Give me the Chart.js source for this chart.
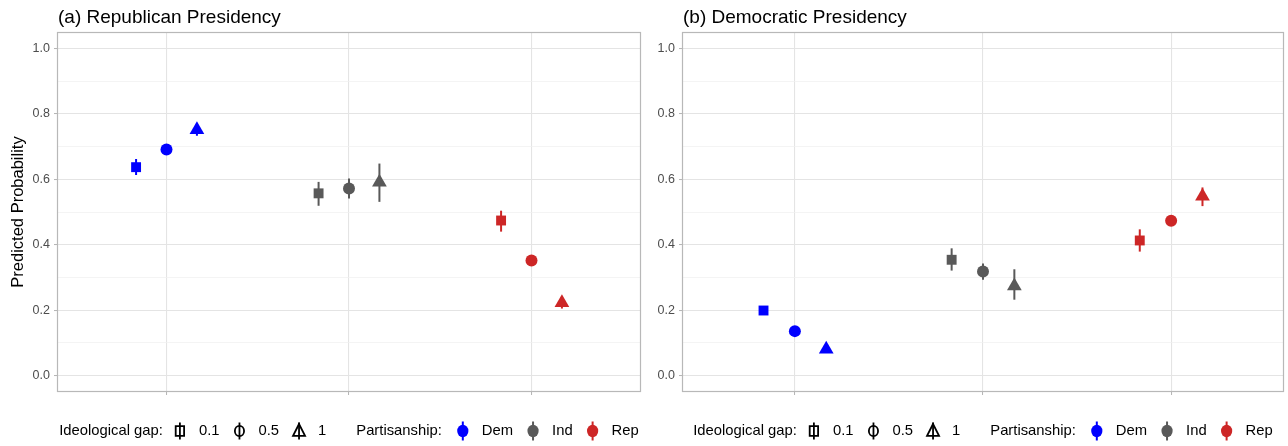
<!DOCTYPE html>
<html>
<head>
<meta charset="utf-8">
<script src="https://cdn.jsdelivr.net/npm/chart.js@4.4.1/dist/chart.umd.min.js"></script>
<style>
  html, body { margin: 0; padding: 0; background: #ffffff; }
  #wrap { position: relative; width: 1288px; height: 446px; overflow: hidden; }
  .panel { position: absolute; top: 0; width: 644px; height: 446px; }
</style>
</head>
<body>
<div id="wrap">
  <div class="panel" style="left:0"><canvas id="repChart" width="644" height="446"></canvas></div>
  <div class="panel" style="left:644px"><canvas id="demChart" width="644" height="446"></canvas></div>
</div>
<script>
// Categories and legend labels
const partyLabels = ['Dem', 'Ind', 'Rep'];
const gapLabels = ['0.1', '0.5', '1'];
const partyColors = ['#0000FF', '#595959', '#CD2626'];
const yTickValues = [0, 0.1, 0.2, 0.3, 0.4, 0.5, 0.6, 0.7, 0.8, 0.9, 1.0];
const yTickLabels = ['0.0', '', '0.2', '', '0.4', '', '0.6', '', '0.8', '', '1.0'];

// Predicted probabilities, ordered Dem(0.1, 0.5, 1), Ind(0.1, 0.5, 1), Rep(0.1, 0.5, 1)
// (a) Republican presidency
const repEstimate = [0.637, 0.691, 0.751, 0.557, 0.572, 0.591, 0.474, 0.352, 0.223];
const repLower    = [0.613, 0.681, 0.733, 0.519, 0.541, 0.531, 0.440, 0.342, 0.205];
const repUpper    = [0.662, 0.701, 0.765, 0.592, 0.602, 0.648, 0.504, 0.362, 0.240];
// (b) Democratic presidency
const demEstimate = [0.199, 0.136, 0.081, 0.354, 0.318, 0.274, 0.413, 0.473, 0.548];
const demLower    = [0.190, 0.126, 0.071, 0.321, 0.293, 0.232, 0.379, 0.463, 0.518];
const demUpper    = [0.210, 0.146, 0.091, 0.389, 0.343, 0.325, 0.447, 0.483, 0.575];

const FONT = '"Liberation Sans", Arial, Helvetica, sans-serif';
const gapStyles = ['rect', 'circle', 'triangle'];
const gapRadii = [7, 6, 8.5];
const dodge = [-1 / 6, 0, 1 / 6];

function buildDatasets(est, lo, hi) {
  return partyLabels.map((party, p) => ({
    label: party,
    data: gapLabels.map((g, k) => ({
      x: p + 1 + dodge[k],
      y: est[p * 3 + k],
      lo: lo[p * 3 + k],
      hi: hi[p * 3 + k]
    })),
    backgroundColor: partyColors[p],
    borderColor: partyColors[p],
    borderWidth: 0,
    pointStyle: ctx => gapStyles[ctx.dataIndex],
    pointRadius: ctx => gapRadii[ctx.dataIndex],
    pointHoverRadius: ctx => gapRadii[ctx.dataIndex],
    showLine: false
  }));
}

// Vertical interval lines behind each point
const errorBars = {
  id: 'errorBars',
  beforeDatasetsDraw(chart) {
    const ctx = chart.ctx;
    const yScale = chart.scales.y;
    ctx.save();
    chart.data.datasets.forEach((ds, i) => {
      const meta = chart.getDatasetMeta(i);
      meta.data.forEach((el, j) => {
        const d = ds.data[j];
        ctx.strokeStyle = ds.borderColor;
        ctx.lineWidth = 2;
        ctx.beginPath();
        ctx.moveTo(el.x, yScale.getPixelForValue(d.lo));
        ctx.lineTo(el.x, yScale.getPixelForValue(d.hi));
        ctx.stroke();
      });
    });
    ctx.restore();
  }
};

function drawGapKey(ctx, x, y, k) {
  ctx.save();
  ctx.strokeStyle = '#000';
  ctx.lineWidth = 1.8;
  ctx.beginPath();
  ctx.moveTo(x, y - 8.5);
  ctx.lineTo(x, y + 8.5);
  ctx.stroke();
  ctx.beginPath();
  if (k === 0) {
    ctx.rect(x - 4.2, y - 4.8, 8.4, 9.6);
  } else if (k === 1) {
    ctx.ellipse(x, y, 4.6, 5.2, 0, 0, Math.PI * 2);
  } else {
    ctx.moveTo(x, y - 7);
    ctx.lineTo(x - 6, y + 4.8);
    ctx.lineTo(x + 6, y + 4.8);
    ctx.closePath();
  }
  ctx.stroke();
  ctx.restore();
}

function drawPartyKey(ctx, x, y, p) {
  ctx.save();
  ctx.strokeStyle = partyColors[p];
  ctx.fillStyle = partyColors[p];
  ctx.lineWidth = 2;
  ctx.beginPath();
  ctx.moveTo(x, y - 9.5);
  ctx.lineTo(x, y + 9.5);
  ctx.stroke();
  ctx.beginPath();
  ctx.ellipse(x, y, 5.6, 6.2, 0, 0, Math.PI * 2);
  ctx.fill();
  ctx.restore();
}

// Panel frame, title, axis title and bottom legend
const decorations = {
  id: 'decorations',
  afterDraw(chart, args, opts) {
    const ctx = chart.ctx;
    const a = chart.chartArea;
    ctx.save();
    // panel border
    ctx.strokeStyle = '#B8B8B8';
    ctx.lineWidth = 1.2;
    ctx.strokeRect(a.left + 0.5, a.top + 0.5, a.right - a.left - 1, a.bottom - a.top - 1);

    // title
    ctx.fillStyle = '#000';
    ctx.font = '19px ' + FONT;
    ctx.textAlign = 'left';
    ctx.textBaseline = 'alphabetic';
    ctx.fillText(opts.title, a.left + 1, 23);

    // y-axis title
    if (opts.yTitle) {
      ctx.save();
      ctx.translate(18.5, (a.top + a.bottom) / 2);
      ctx.rotate(-Math.PI / 2);
      ctx.font = '16.5px ' + FONT;
      ctx.textAlign = 'center';
      ctx.textBaseline = 'middle';
      ctx.fillText(opts.yTitle, 0, 0);
      ctx.restore();
    }

    // legend
    ctx.font = '14.8px ' + FONT;
    ctx.textBaseline = 'middle';
    ctx.textAlign = 'left';
    const items = [];
    items.push({ t: 'text', s: 'Ideological gap:', after: 17 });
    gapLabels.forEach((g, k) => {
      items.push({ t: 'gap', k: k, after: 19 });
      items.push({ t: 'text', s: g, after: k < gapLabels.length - 1 ? 20 : 30 });
    });
    items.push({ t: 'text', s: 'Partisanship:', after: 21 });
    partyLabels.forEach((p, k) => {
      items.push({ t: 'party', k: k, after: 19 });
      items.push({ t: 'text', s: p, after: k < partyLabels.length - 1 ? 20 : 0 });
    });
    let total = 0;
    items.forEach(it => {
      it.w = it.t === 'text' ? ctx.measureText(it.s).width : 0;
      total += it.w + it.after;
    });
    let x = (a.left + a.right) / 2 - total / 2;
    const y = opts.legendY;
    items.forEach(it => {
      if (it.t === 'text') {
        ctx.fillStyle = '#000';
        ctx.fillText(it.s, x, y);
      } else if (it.t === 'gap') {
        drawGapKey(ctx, x, y, it.k);
      } else {
        drawPartyKey(ctx, x, y, it.k);
      }
      x += it.w + it.after;
    });
    ctx.restore();
  }
};

function makeChart(id, title, yTitle, est, lo, hi, axisWidth, padRight) {
  return new Chart(document.getElementById(id), {
    type: 'scatter',
    data: { datasets: buildDatasets(est, lo, hi) },
    plugins: [errorBars, decorations],
    options: {
      responsive: false,
      devicePixelRatio: 1,
      animation: false,
      events: [],
      layout: {
        autoPadding: false,
        padding: { top: 32, left: 0, right: padRight, bottom: 0 }
      },
      plugins: {
        legend: { display: false },
        tooltip: { enabled: false },
        decorations: { title: title, yTitle: yTitle, legendY: 431 }
      },
      scales: {
        x: {
          type: 'linear',
          min: 0.4,
          max: 3.6,
          afterBuildTicks: s => { s.ticks = [1, 2, 3].map(v => ({ value: v })); },
          afterFit: s => { s.height = 54; },
          ticks: { display: false },
          border: { display: false },
          grid: {
            color: '#E4E4E4',
            lineWidth: 1.1,
            drawTicks: true,
            tickLength: 3,
            tickColor: '#B3B3B3',
            tickWidth: 1
          }
        },
        y: {
          type: 'linear',
          min: -0.05,
          max: 1.05,
          afterBuildTicks: s => { s.ticks = yTickValues.map(v => ({ value: v })); },
          afterFit: s => { s.width = axisWidth; },
          ticks: {
            autoSkip: false,
            callback: (v, i) => yTickLabels[i],
            color: '#4D4D4D',
            font: { size: 12.5, family: FONT },
            padding: 4
          },
          border: { display: false },
          grid: {
            color: ctx => (ctx.index % 2 === 0 ? '#E4E4E4' : '#EFEFEF'),
            lineWidth: ctx => (ctx.index % 2 === 0 ? 1.1 : 0.7),
            drawTicks: true,
            tickLength: 3,
            tickColor: ctx => (ctx.index % 2 === 0 ? '#B3B3B3' : 'rgba(0,0,0,0)'),
            tickWidth: 1
          }
        }
      }
    }
  });
}

makeChart('repChart', '(a) Republican Presidency', 'Predicted Probability',
  repEstimate, repLower, repUpper, 57, 3);
makeChart('demChart', '(b) Democratic Presidency', null,
  demEstimate, demLower, demUpper, 38, 4);
</script>
</body>
</html>
